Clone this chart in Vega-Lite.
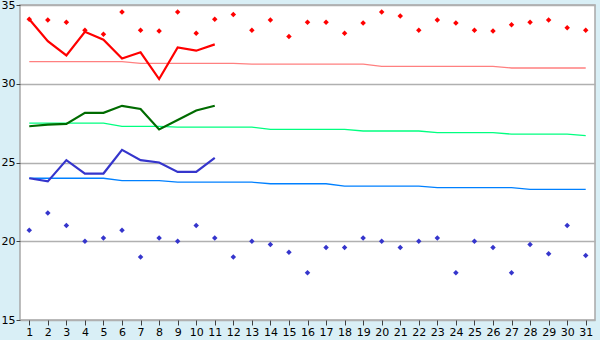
{
  "$schema": "https://vega.github.io/schema/vega-lite/v6.json",
  "width": 575,
  "height": 315,
  "autosize": {"type": "none"},
  "padding": {"left": 20, "top": 5, "right": 5, "bottom": 20},
  "background": "#d9eff6",
  "config": {
    "view": {"fill": "white", "stroke": "#a8a8a8", "strokeWidth": 1.5},
    "axis": {"labelFont": "DejaVu Sans", "labelFontSize": 11, "labelColor": "#000000", "tickColor": "#404040", "domain": false, "title": null}
  },
  "data": {"values": [
    {"day": 1, "max": 34.1, "mean": 27.3, "min": 24.0, "nmax": 31.4, "nmean": 27.5, "nmin": 24.0, "rhigh": 34.1, "rlow": 20.7},
    {"day": 2, "max": 32.7, "mean": 27.4, "min": 23.8, "nmax": 31.4, "nmean": 27.5, "nmin": 24.0, "rhigh": 34.05, "rlow": 21.8},
    {"day": 3, "max": 31.8, "mean": 27.45, "min": 25.15, "nmax": 31.4, "nmean": 27.5, "nmin": 24.0, "rhigh": 33.9, "rlow": 21.0},
    {"day": 4, "max": 33.3, "mean": 28.15, "min": 24.3, "nmax": 31.4, "nmean": 27.5, "nmin": 24.0, "rhigh": 33.4, "rlow": 20.0},
    {"day": 5, "max": 32.8, "mean": 28.15, "min": 24.3, "nmax": 31.4, "nmean": 27.5, "nmin": 24.0, "rhigh": 33.15, "rlow": 20.2},
    {"day": 6, "max": 31.6, "mean": 28.6, "min": 25.8, "nmax": 31.4, "nmean": 27.3, "nmin": 23.85, "rhigh": 34.55, "rlow": 20.7},
    {"day": 7, "max": 32.0, "mean": 28.4, "min": 25.15, "nmax": 31.3, "nmean": 27.3, "nmin": 23.85, "rhigh": 33.4, "rlow": 19.0},
    {"day": 8, "max": 30.3, "mean": 27.1, "min": 25.0, "nmax": 31.3, "nmean": 27.3, "nmin": 23.85, "rhigh": 33.35, "rlow": 20.2},
    {"day": 9, "max": 32.3, "mean": 27.7, "min": 24.4, "nmax": 31.3, "nmean": 27.25, "nmin": 23.75, "rhigh": 34.55, "rlow": 20.0},
    {"day": 10, "max": 32.1, "mean": 28.3, "min": 24.4, "nmax": 31.3, "nmean": 27.25, "nmin": 23.75, "rhigh": 33.2, "rlow": 21.0},
    {"day": 11, "max": 32.5, "mean": 28.6, "min": 25.3, "nmax": 31.3, "nmean": 27.25, "nmin": 23.75, "rhigh": 34.1, "rlow": 20.2},
    {"day": 12, "nmax": 31.3, "nmean": 27.25, "nmin": 23.75, "rhigh": 34.4, "rlow": 19.0},
    {"day": 13, "nmax": 31.25, "nmean": 27.25, "nmin": 23.75, "rhigh": 33.4, "rlow": 20.0},
    {"day": 14, "nmax": 31.25, "nmean": 27.1, "nmin": 23.65, "rhigh": 34.05, "rlow": 19.8},
    {"day": 15, "nmax": 31.25, "nmean": 27.1, "nmin": 23.65, "rhigh": 33.0, "rlow": 19.3},
    {"day": 16, "nmax": 31.25, "nmean": 27.1, "nmin": 23.65, "rhigh": 33.9, "rlow": 18.0},
    {"day": 17, "nmax": 31.25, "nmean": 27.1, "nmin": 23.65, "rhigh": 33.9, "rlow": 19.6},
    {"day": 18, "nmax": 31.25, "nmean": 27.1, "nmin": 23.5, "rhigh": 33.2, "rlow": 19.6},
    {"day": 19, "nmax": 31.25, "nmean": 27.0, "nmin": 23.5, "rhigh": 33.85, "rlow": 20.2},
    {"day": 20, "nmax": 31.1, "nmean": 27.0, "nmin": 23.5, "rhigh": 34.55, "rlow": 20.0},
    {"day": 21, "nmax": 31.1, "nmean": 27.0, "nmin": 23.5, "rhigh": 34.3, "rlow": 19.6},
    {"day": 22, "nmax": 31.1, "nmean": 27.0, "nmin": 23.5, "rhigh": 33.4, "rlow": 20.0},
    {"day": 23, "nmax": 31.1, "nmean": 26.9, "nmin": 23.4, "rhigh": 34.05, "rlow": 20.2},
    {"day": 24, "nmax": 31.1, "nmean": 26.9, "nmin": 23.4, "rhigh": 33.85, "rlow": 18.0},
    {"day": 25, "nmax": 31.1, "nmean": 26.9, "nmin": 23.4, "rhigh": 33.4, "rlow": 20.0},
    {"day": 26, "nmax": 31.1, "nmean": 26.9, "nmin": 23.4, "rhigh": 33.35, "rlow": 19.6},
    {"day": 27, "nmax": 31.0, "nmean": 26.8, "nmin": 23.4, "rhigh": 33.75, "rlow": 18.0},
    {"day": 28, "nmax": 31.0, "nmean": 26.8, "nmin": 23.3, "rhigh": 33.9, "rlow": 19.8},
    {"day": 29, "nmax": 31.0, "nmean": 26.8, "nmin": 23.3, "rhigh": 34.05, "rlow": 19.2},
    {"day": 30, "nmax": 31.0, "nmean": 26.8, "nmin": 23.3, "rhigh": 33.55, "rlow": 21.0},
    {"day": 31, "nmax": 31.0, "nmean": 26.7, "nmin": 23.3, "rhigh": 33.4, "rlow": 19.1}
  ]},
  "transform": [
    {"fold": ["max", "mean", "min", "nmax", "nmean", "nmin", "rhigh", "rlow"], "as": ["series", "value"]},
    {"filter": "isValid(datum.value)"}
  ],
  "encoding": {
    "x": {"field": "day", "type": "quantitative", "scale": {"domain": [0.5, 31.5], "nice": false, "zero": false},
      "axis": {"values": [1,2,3,4,5,6,7,8,9,10,11,12,13,14,15,16,17,18,19,20,21,22,23,24,25,26,27,28,29,30,31], "grid": false, "tickSize": 5, "labelPadding": 1, "labelFlush": false}},
    "y": {"field": "value", "type": "quantitative", "scale": {"domain": [15, 35], "nice": false, "zero": false},
      "axis": {"values": [15, 20, 25, 30, 35], "grid": true, "gridColor": "#b0b0b0", "gridWidth": 1.5, "tickSize": 4, "labelPadding": 1, "labelFlush": false}},
    "color": {"field": "series", "type": "nominal", "legend": null,
      "scale": {"domain": ["max", "mean", "min", "nmax", "nmean", "nmin", "rhigh", "rlow"],
        "range": ["#ff0000", "#006b00", "#3535cc", "#ff8080", "#00ff80", "#0080ff", "#ff0000", "#3535cc"]}}
  },
  "layer": [
    {"transform": [{"filter": "indexof(['nmax','nmean','nmin'], datum.series) >= 0"}],
     "mark": {"type": "line", "strokeWidth": 1.3}},
    {"transform": [{"filter": "indexof(['max','mean','min'], datum.series) >= 0"}],
     "mark": {"type": "line", "strokeWidth": 2.2}},
    {"transform": [{"filter": "indexof(['rhigh','rlow'], datum.series) >= 0"}],
     "mark": {"type": "point", "shape": "diamond", "filled": true, "size": 30, "opacity": 1}}
  ]
}
